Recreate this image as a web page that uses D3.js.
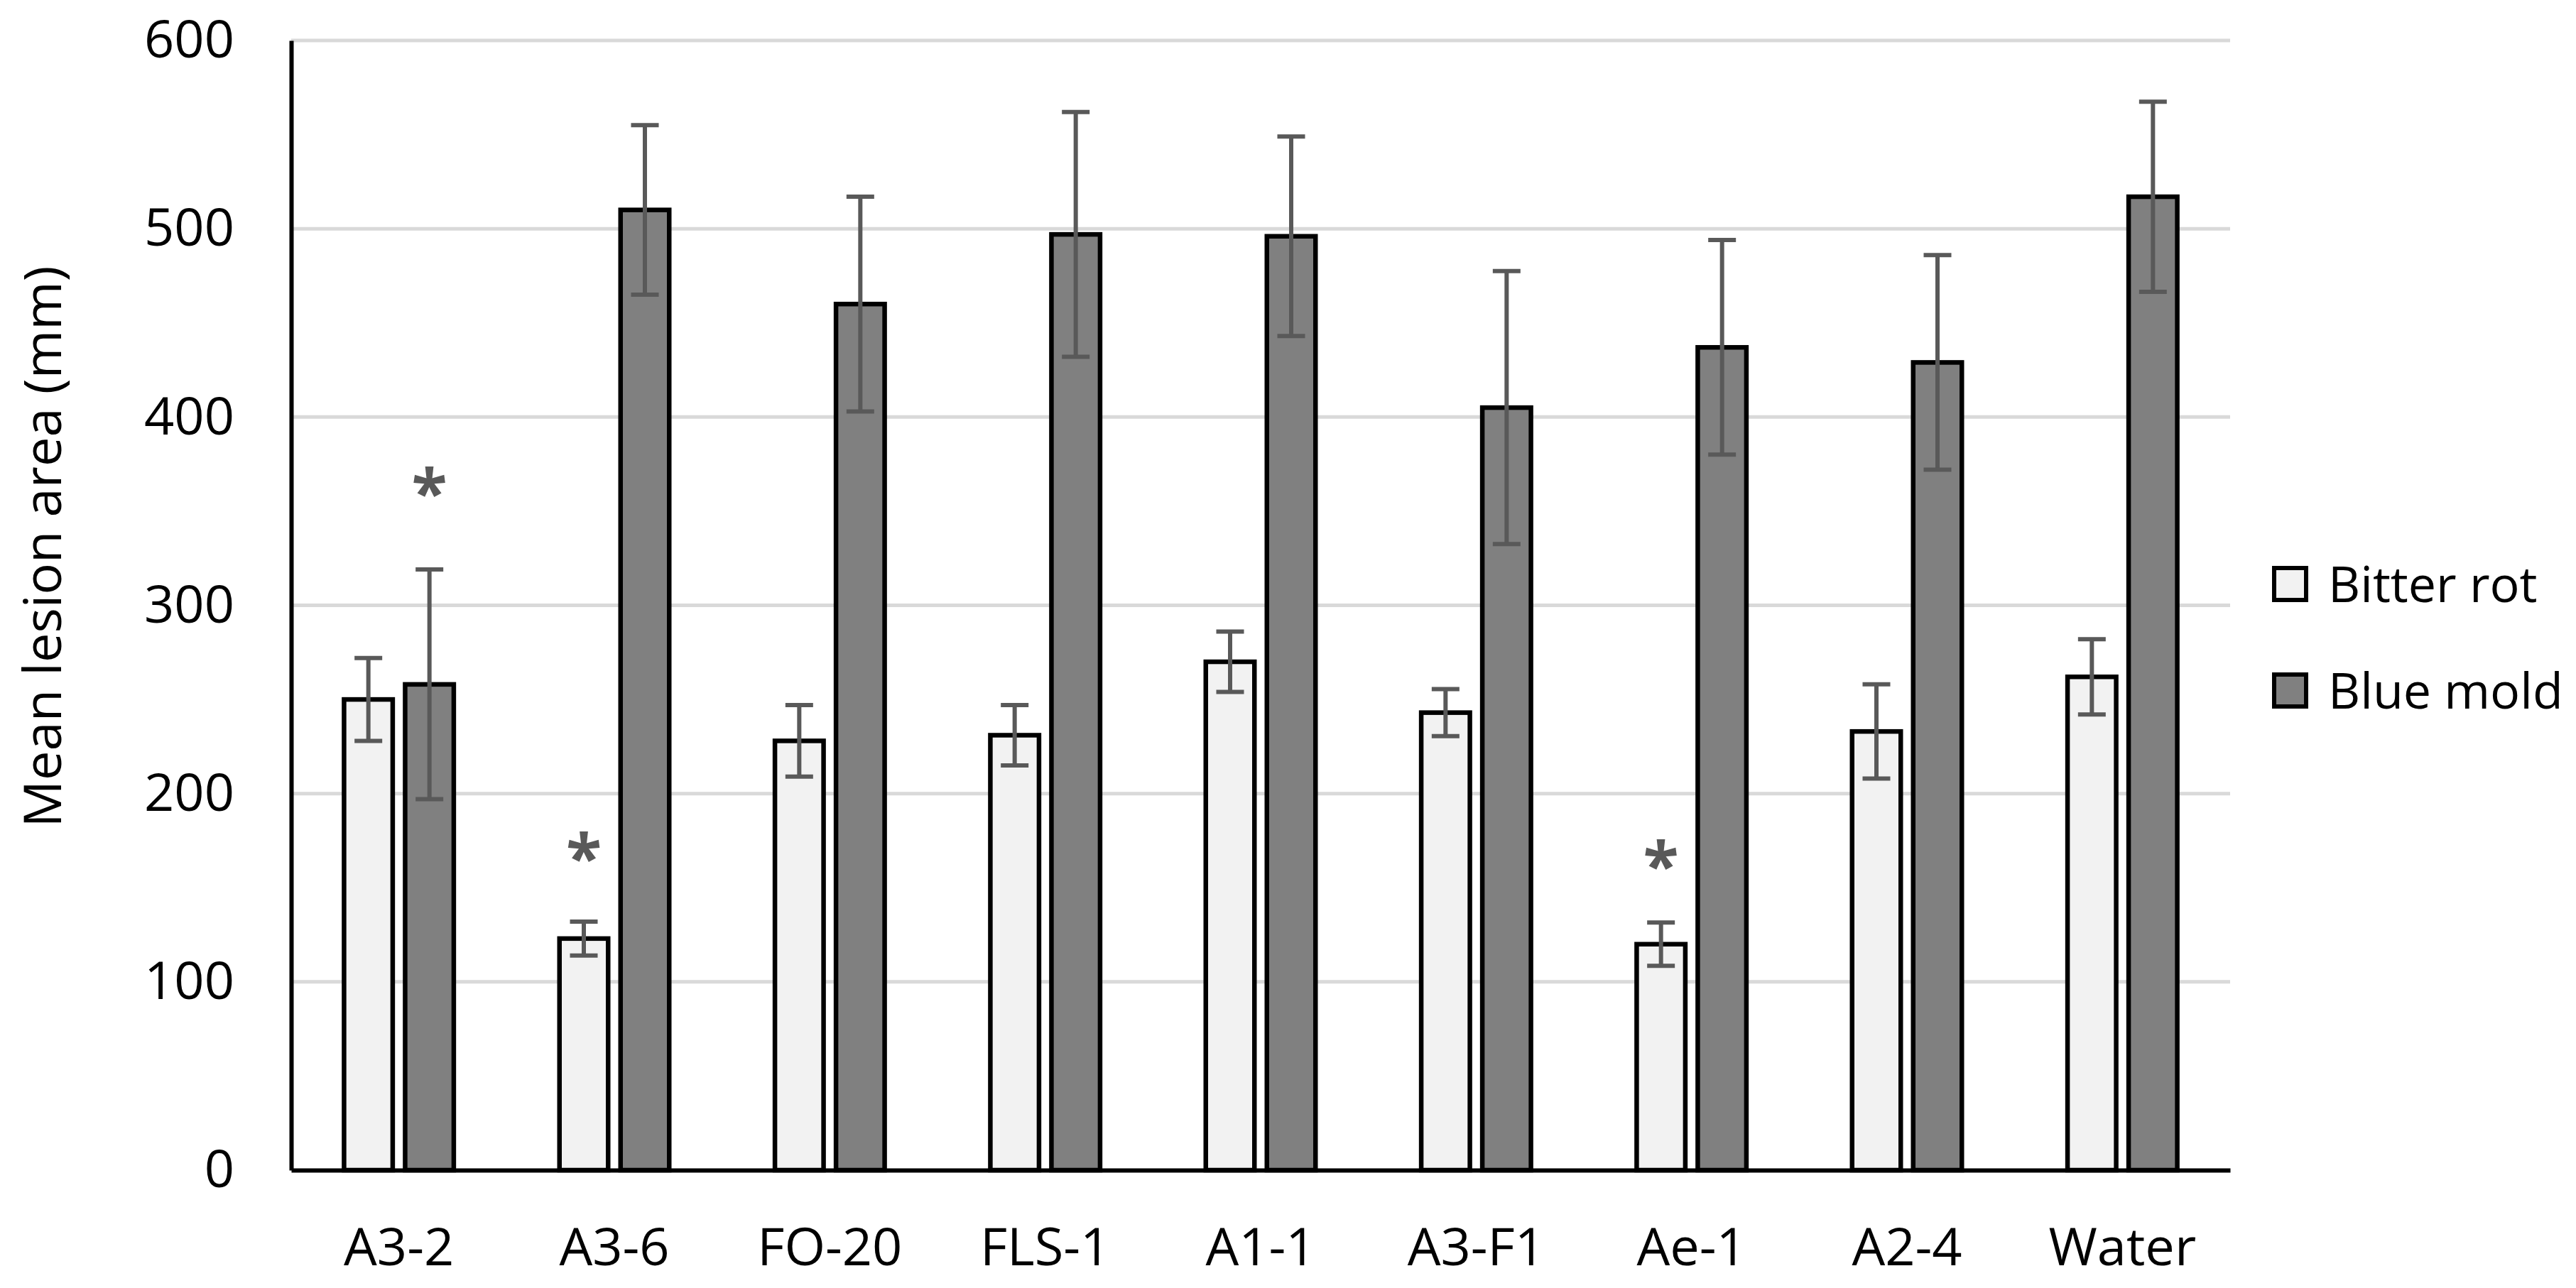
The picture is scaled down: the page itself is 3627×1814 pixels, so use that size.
<!DOCTYPE html>
<html>
<head>
<meta charset="utf-8">
<script src="https://cdn.jsdelivr.net/npm/d3@7"></script>
<style>
  body { margin: 0; background: #ffffff; }
  text { font-family: "Open Sans", sans-serif; fill: #000000; }
</style>
</head>
<body>
<div id="chart"></div>
<script>
// data
const categories = ["A3-2", "A3-6", "FO-20", "FLS-1", "A1-1", "A3-F1", "Ae-1", "A2-4", "Water"];
const seriesNames = ["Bitter rot", "Blue mold"];
const bitterRot = [250, 123, 228, 231, 270, 243, 120, 233, 262];
const bitterRotErr = [22, 9, 19, 16, 16, 12.5, 11.5, 25, 20];
const blueMold = [258, 510, 460, 497, 496, 405, 437, 429, 517];
const blueMoldErr = [61, 45, 57, 65, 53, 72.5, 57, 57, 50.5];
// significance marks: category, series, height of the mark
const starCats = ["A3-2", "A3-6", "Ae-1"];
const starSeries = ["Blue mold", "Bitter rot", "Bitter rot"];
const starLevel = [364, 170, 166];
const yTicks = [0, 100, 200, 300, 400, 500, 600];

const width = 3627;
const height = 1814;
const margin = {left: 410, right: 487, top: 57, bottom: 166};

const fills = d3.scaleOrdinal().domain(seriesNames).range(["#f2f2f2", "#808080"]);
const barStroke = 6.5;

let svg = d3.select("#chart").append("svg")
    .attr("width", width)
    .attr("height", height);

let x0 = d3.scaleBand()
    .domain(categories)
    .range([margin.left, width - margin.right])
    .padding(0);

let x1 = d3.scaleBand()
    .domain(seriesNames)
    .range([-86, 86])
    .paddingInner(0.128)
    .paddingOuter(0.064);

let y = d3.scaleLinear()
    .domain([0, 600])
    .range([height - margin.bottom, margin.top]);

// rows for the bars
let rows = [];
categories.forEach(function(c, i) {
    rows.push({cat: c, series: "Bitter rot", value: bitterRot[i], err: bitterRotErr[i]});
    rows.push({cat: c, series: "Blue mold", value: blueMold[i], err: blueMoldErr[i]});
});

function barCenter(d) {
    return x0(d.cat) + x0.bandwidth() / 2 + x1(d.series) + x1.bandwidth() / 2;
}

// gridlines
svg.append("g")
    .selectAll("line")
    .data(yTicks.filter(d => d > 0))
    .join("line")
    .attr("x1", margin.left)
    .attr("x2", width - margin.right)
    .attr("y1", d => y(d))
    .attr("y2", d => y(d))
    .attr("stroke", "#d9d9d9")
    .attr("stroke-width", 5);

// bars
svg.append("g")
    .selectAll("rect")
    .data(rows)
    .join("rect")
    .attr("x", d => barCenter(d) - x1.bandwidth() / 2 + barStroke / 2)
    .attr("width", x1.bandwidth() - barStroke)
    .attr("y", d => y(d.value))
    .attr("height", d => y(0) - y(d.value))
    .attr("fill", d => fills(d.series))
    .attr("stroke", "#000000")
    .attr("stroke-width", barStroke);

// error bars
let eb = svg.append("g")
    .attr("stroke", "#595959")
    .attr("stroke-width", 6);

eb.selectAll(".stem")
    .data(rows)
    .join("line")
    .attr("class", "stem")
    .attr("x1", d => barCenter(d))
    .attr("x2", d => barCenter(d))
    .attr("y1", d => y(d.value - d.err))
    .attr("y2", d => y(d.value + d.err));

eb.selectAll(".capTop")
    .data(rows)
    .join("line")
    .attr("class", "capTop")
    .attr("x1", d => barCenter(d) - 19.5)
    .attr("x2", d => barCenter(d) + 19.5)
    .attr("y1", d => y(d.value + d.err))
    .attr("y2", d => y(d.value + d.err));

eb.selectAll(".capBot")
    .data(rows)
    .join("line")
    .attr("class", "capBot")
    .attr("x1", d => barCenter(d) - 19.5)
    .attr("x2", d => barCenter(d) + 19.5)
    .attr("y1", d => y(d.value - d.err))
    .attr("y2", d => y(d.value - d.err));

// asterisks
let stars = starCats.map(function(c, i) {
    return {cat: c, series: starSeries[i], level: starLevel[i]};
});

svg.append("g")
    .selectAll("text")
    .data(stars)
    .join("text")
    .attr("x", d => barCenter(d))
    .attr("y", d => y(d.level) + 44)
    .attr("text-anchor", "middle")
    .attr("font-size", 92)
    .attr("font-weight", 700)
    .style("fill", "#595959")
    .text("*");

// axes
let yAxis = d3.axisLeft(y)
    .tickValues(yTicks)
    .tickSize(0)
    .tickPadding(80);

let gy = svg.append("g")
    .attr("transform", `translate(${margin.left},0)`)
    .call(yAxis);
gy.select(".domain").attr("stroke", "#000000").attr("stroke-width", 6);
gy.selectAll("text")
    .attr("font-size", 74)
    .attr("font-family", "Open Sans");

let xAxis = d3.axisBottom(x0)
    .tickSize(0)
    .tickPadding(82);

let gx = svg.append("g")
    .attr("transform", `translate(0,${y(0)})`)
    .call(xAxis);
gx.select(".domain").attr("stroke", "#000000").attr("stroke-width", 6);
gx.selectAll("text")
    .attr("font-size", 74)
    .attr("font-family", "Open Sans")
    .attr("dy", null)
    .attr("y", 134);

// y axis title
svg.append("text")
    .attr("transform", "translate(86,770) rotate(-90)")
    .attr("text-anchor", "middle")
    .attr("font-size", 74)
    .text("Mean lesion area (mm)");

// legend
let legend = svg.append("g")
    .selectAll("g")
    .data(seriesNames)
    .join("g")
    .attr("transform", (d, i) => `translate(3199,${797 + i * 150})`);

legend.append("rect")
    .attr("x", 3)
    .attr("y", 3)
    .attr("width", 45)
    .attr("height", 45)
    .attr("fill", d => fills(d))
    .attr("stroke", "#000000")
    .attr("stroke-width", 6);

legend.append("text")
    .attr("x", 79)
    .attr("y", 51)
    .attr("font-size", 70)
    .text(d => d);
</script>
</body>
</html>
